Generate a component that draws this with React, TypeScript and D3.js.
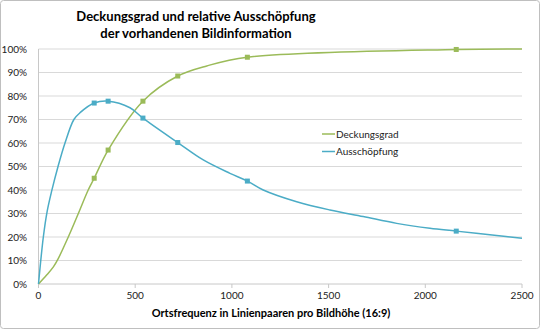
import React from "react";
import * as d3 from "d3";

const W = 540;
const H = 329;

const titleLines = ["Deckungsgrad und relative Ausschöpfung", "der vorhandenen Bildinformation"];
const xLabel = "Ortsfrequenz in Linienpaaren pro Bildhöhe (16:9)";
const xTicks = [0, 500, 1000, 1500, 2000, 2500];
const yTicks = [0, 10, 20, 30, 40, 50, 60, 70, 80, 90, 100];

const seriesNames = ["Deckungsgrad", "Ausschöpfung"];
const seriesColors = ["#9BBB59", "#4BACC6"];

// Deckungsgrad (%)
const deckFreq = [0, 42, 77, 102, 154, 206, 257, 288, 360, 540, 720, 870, 1080, 2160, 2500];
const deckVal = [0, 3.8, 7.3, 10.8, 20, 30, 40, 45, 57, 77.8, 88.5, 92.8, 96.5, 99.8, 100];

// Ausschöpfung (%)
const ausFreq = [0, 25, 45, 68, 101, 137, 183, 215, 288, 360, 473, 540, 720, 852, 990, 1080, 1162, 1335, 1507, 1679, 1852, 2024, 2160, 2369, 2500];
const ausVal = [0, 20, 31, 39.5, 50, 60, 70, 72.9, 77, 77.8, 75, 70.6, 60.2, 52.8, 47.1, 43.8, 40, 35, 31.5, 28.7, 25.8, 23.7, 22.5, 20.6, 19.5];

// sample points that carry markers
const markerFreq = [288, 360, 540, 720, 1080, 2160];

export default function App() {
  const left = 38.5;
  const right = 522;
  const top = 49;
  const bottom = 284;
  const x = d3.scaleLinear().domain([0, 2500]).range([left, right]);
  const y = d3.scaleLinear().domain([0, 100]).range([bottom, top]);

  const line = d3
    .line<[number, number]>()
    .x((d) => x(d[0]))
    .y((d) => y(d[1]))
    .curve(d3.curveCatmullRom.alpha(0.5));

  const series = [
    deckFreq.map((f, i) => [f, deckVal[i]] as [number, number]),
    ausFreq.map((f, i) => [f, ausVal[i]] as [number, number]),
  ];

  const font = "Lato, 'Open Sans', sans-serif";

  return (
    <div style={{ position: "absolute", left: 0, top: 0 }}>
      <svg width={W} height={H} style={{ display: "block", background: "#fff" }} fontFamily={font}>
        <rect x={0.5} y={0.5} width={W - 1} height={H - 1} rx={3} fill="#fff" stroke="#BFBFBF" />
        {titleLines.map((t, i) => (
          <text key={i} x={196} y={21 + i * 17} textAnchor="middle" fontSize={13} fontWeight="bold" fill="#000">
            {t}
          </text>
        ))}
        {yTicks.map((v) => (
          <g key={v}>
            {v > 0 && (
              <line x1={left} x2={right} y1={y(v)} y2={y(v)} stroke="#D9D9D9" strokeWidth={1} />
            )}
            <text x={27} y={y(v)} dy="0.35em" textAnchor="end" fontSize={10} fill="#222">
              {v}%
            </text>
          </g>
        ))}
        <line x1={left} x2={left} y1={top} y2={bottom} stroke="#C8C8C8" />
        <line x1={left} x2={right} y1={bottom} y2={bottom} stroke="#C8C8C8" />
        {xTicks.map((v) => (
          <g key={v}>
            <line x1={x(v)} x2={x(v)} y1={bottom} y2={bottom + 4} stroke="#C8C8C8" />
            <text x={x(v)} y={299} textAnchor="middle" fontSize={10} fill="#222">
              {v}
            </text>
          </g>
        ))}
        <text x={271} y={317} textAnchor="middle" fontSize={11} fontWeight="bold" fill="#000">
          {xLabel}
        </text>
        {series.map((s, i) => (
          <path key={i} d={line(s) || ""} fill="none" stroke={seriesColors[i]} strokeWidth={1.5} />
        ))}
        {series.map((s, i) =>
          s
            .filter((d) => markerFreq.includes(d[0]))
            .map((d) => (
              <rect
                key={`${i}-${d[0]}`}
                x={x(d[0]) - 2.5}
                y={y(d[1]) - 2.5}
                width={5}
                height={5}
                fill={seriesColors[i]}
              />
            ))
        )}
        {seriesNames.map((n, i) => (
          <g key={n}>
            <line x1={322} x2={335} y1={134 + i * 17.5} y2={134 + i * 17.5} stroke={seriesColors[i]} strokeWidth={1.5} />
            <text x={336} y={134 + i * 17.5} dy="0.35em" fontSize={10} fill="#222">
              {n}
            </text>
          </g>
        ))}
      </svg>
    </div>
  );
}
